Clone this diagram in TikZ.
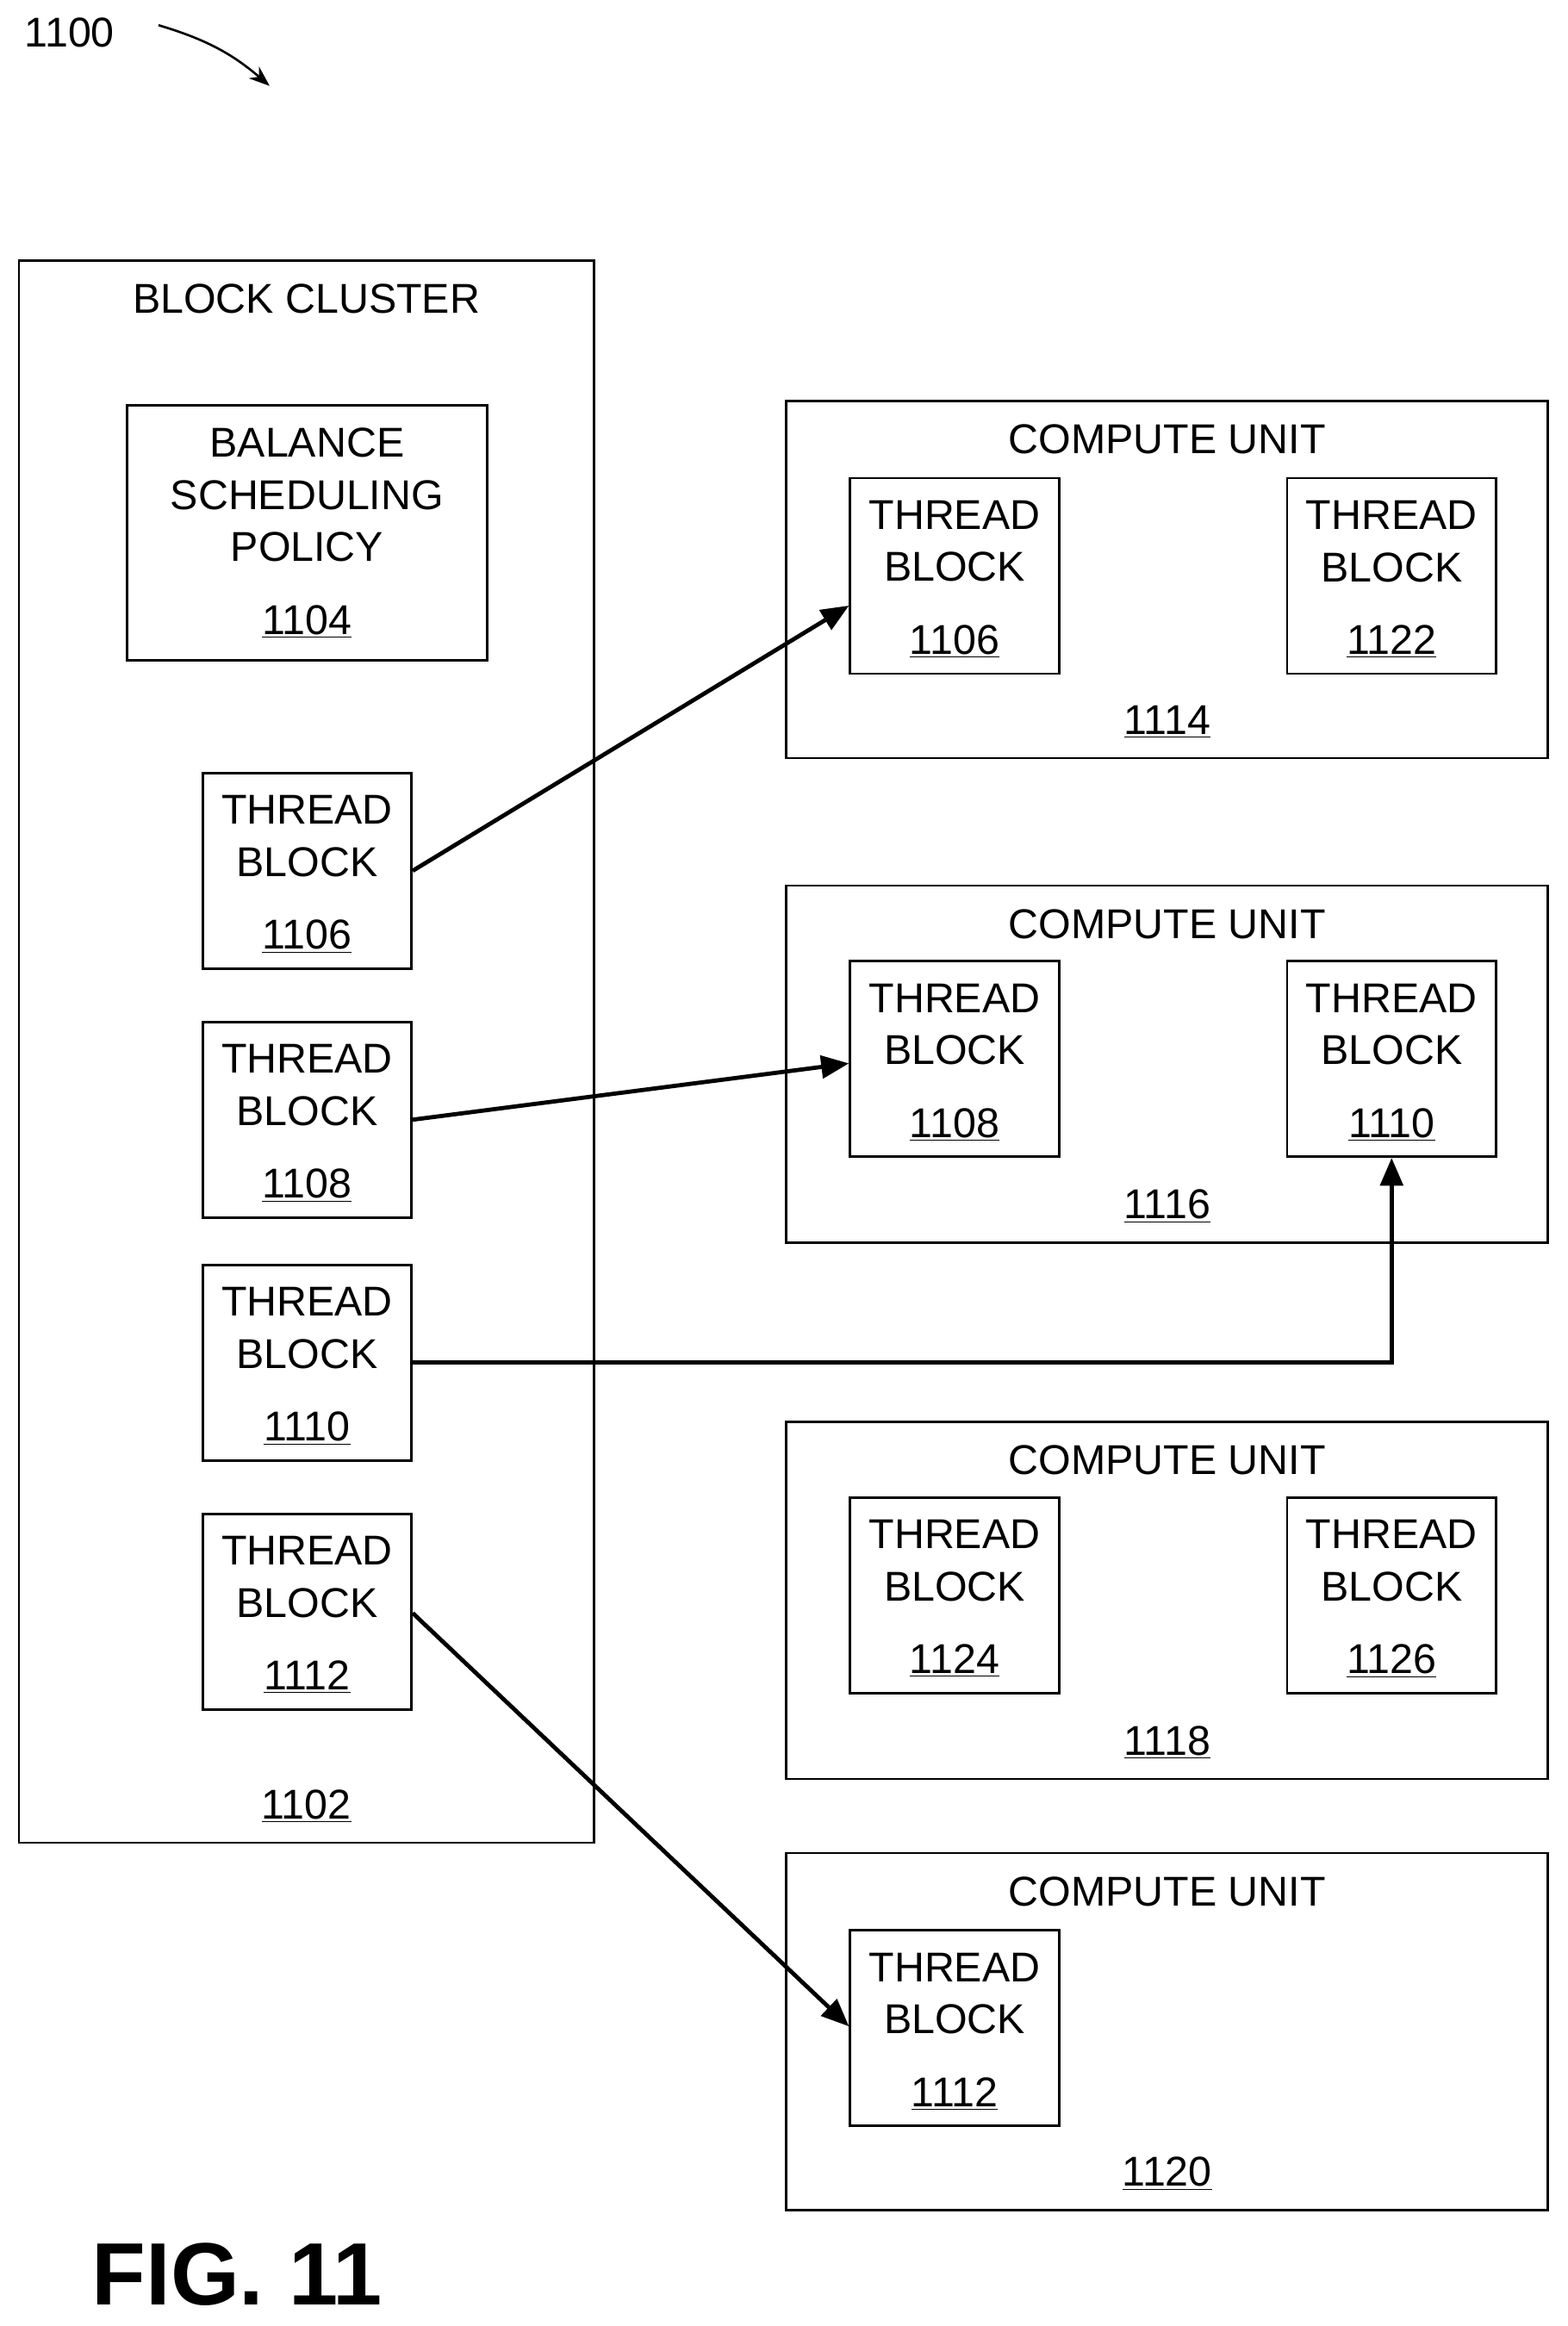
\documentclass[tikz,border=0pt]{standalone}
\usepackage{fontspec}
\setmainfont{Liberation Sans}
\usetikzlibrary{positioning, arrows.meta}
\tikzset{x=0.03cm, y=-0.03cm,
box/.style={ % outline of every block
draw, line width=1.3pt, inner sep=0pt},
txt/.style={ % labels
font=\fontsize{24}{30}\selectfont, align=center, inner sep=0pt},
link/.style={ % assignment arrows
draw, line width=2.4pt, -{Triangle[length=16pt,width=13pt]}}}
\newcommand{\tblock}[3]{% name, top-left corner, number
  \node[box, anchor=north west, minimum width=141*0.03cm, minimum height=132*0.03cm] (#1) at #2 {};
  \node[txt] at ([yshift=-2pt]#1.center) {THREAD\\BLOCK\\[12pt]\underline{#3}};}
\newcommand{\cunit}[3]{% name, top y, number
  \node[box, anchor=north west, minimum width=514*0.03cm, minimum height=241*0.03cm] (#1) at (530,#2) {};
  \node[txt, below=14pt of #1.north] {COMPUTE UNIT};
  \node[txt, above=12pt of #1.south] {\underline{#3}};}
\begin{document}
\begin{tikzpicture}
    \useasboundingbox (0,0) rectangle (1058,1570);
    \node[txt] (fig) at (47,22) {1100};
    \draw[line width=1.3pt, -{Stealth[length=12pt]}] (107,17) to[bend left=12] (182,58);
    % block cluster
    \node[box, anchor=north west, minimum width=388*0.03cm, minimum height=1068*0.03cm] (bc) at (12,175) {};
    \node[txt, below=14pt of bc.north] {BLOCK CLUSTER};
    \node[txt, above=12pt of bc.south] {\underline{1102}};
    \node[box, anchor=north west, minimum width=243*0.03cm, minimum height=172*0.03cm] (bsp) at (85,273) {};
    \node[txt] at (bsp.center) {BALANCE\\SCHEDULING\\POLICY\\[12pt]\underline{1104}};
    \tblock{s1106}{(136,521)}{1106}
    \tblock{s1108}{(136,689)}{1108}
    \tblock{s1110}{(136,853)}{1110}
    \tblock{s1112}{(136,1021)}{1112}
    % compute units
    \cunit{cu1114}{270}{1114}
    \cunit{cu1116}{597}{1116}
    \cunit{cu1118}{959}{1118}
    \cunit{cu1120}{1250}{1120}
    \tblock{d1106}{(573,322)}{1106}
    \tblock{d1122}{(868,322)}{1122}
    \tblock{d1108}{(573,648)}{1108}
    \tblock{d1110}{(868,648)}{1110}
    \tblock{d1124}{(573,1010)}{1124}
    \tblock{d1126}{(868,1010)}{1126}
    \tblock{d1112}{(573,1302)}{1112}
    % assignments
    \draw[link] (s1106.east) -- ([yshift=-20*0.03cm]d1106.west);
    \draw[link] (s1108.east) -- ([yshift=-3*0.03cm]d1108.west);
    \draw[link] (s1110.east) -| (d1110.south);
    \draw[link] ([yshift=-1*0.03cm]s1112.east) -- ([yshift=1*0.03cm]d1112.west);
    \node[font=\bfseries\fontsize{51}{56}\selectfont, inner sep=0pt] (title) at (160,1535) {FIG. 11};
\end{tikzpicture}
\end{document}
